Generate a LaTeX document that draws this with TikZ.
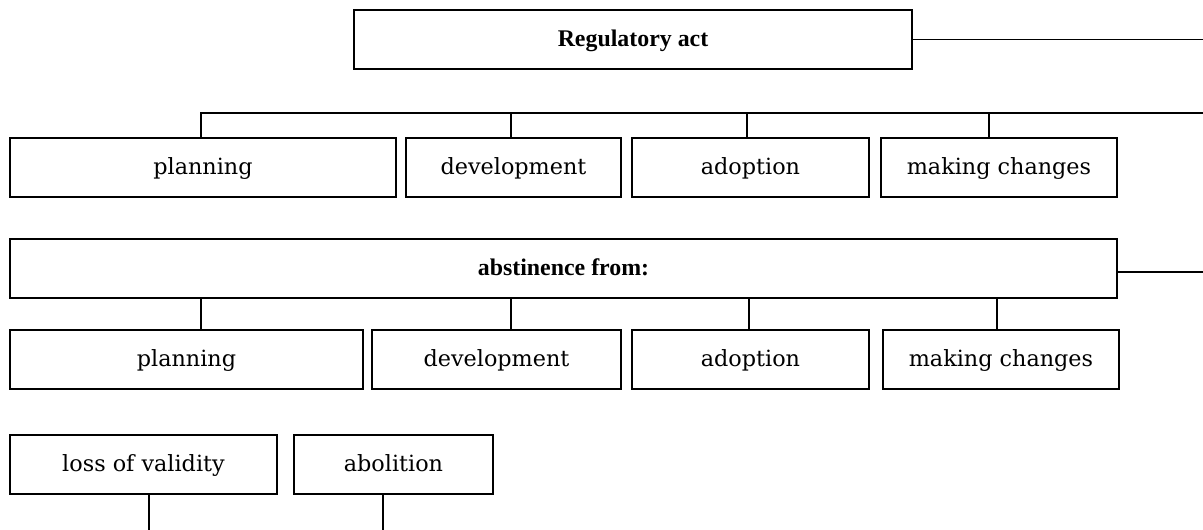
\documentclass[tikz,border=0pt]{standalone}
\usepackage{fontspec}
\setmainfont{DejaVu Serif}[BoldFont={Liberation Serif Bold}, BoldFeatures={Scale=1.07}]
\usepackage{xcolor}

\tikzset{
    box/.style={draw, line width=1.5pt, minimum height=1.18cm, inner sep=0pt,
        text height=0.95em, text depth=0.1em,
        font=\fontsize{12.7}{15}\selectfont},
    link/.style={line width=0.6pt}
}

\begin{document}
\begin{tikzpicture}[x=0.02cm, y=-0.02cm]
    \useasboundingbox (0,0) rectangle (1203,530);

    % top
    \node[box, minimum width=11.16cm] (act) at (633,39.5) {\textbf{Regulatory act}};
    \coordinate (actend) at (1203,39.5);
    \draw[link] (act.east) -- (actend);

    % first row
    \node[box, minimum width=7.72cm] (p1) at (203,167.5) {planning};
    \node[box, minimum width=4.30cm] (d1) at (513.5,167.5) {development};
    \node[box, minimum width=4.74cm] (a1) at (750.5,167.5) {adoption};
    \node[box, minimum width=4.72cm] (m1) at (999,167.5) {making changes};

    \coordinate (bus) at (1203,113);
    \draw[link] (bus) -| ([xshift=-0.04cm]p1.north);
    \foreach \n/\dx in {d1/-0.05, a1/-0.07, m1/-0.2}
        \draw[link] ([xshift=\dx cm]\n.north) -- ([xshift=\dx cm]\n.north |- bus);

    % abstinence
    \node[box, minimum width=22.14cm] (abst) at (563.5,268.5) {\textbf{abstinence from:}};
    \coordinate (abstend) at (1203,272);
    \draw[link] (abstend) -- (abstend -| abst.east);

    % second row
    \node[box, minimum width=7.06cm] (p2) at (186.5,359.5) {planning};
    \node[box, minimum width=4.98cm] (d2) at (496.5,359.5) {development};
    \node[box, minimum width=4.74cm] (a2) at (750.5,359.5) {adoption};
    \node[box, minimum width=4.72cm] (m2) at (1001,359.5) {making changes};

    \foreach \n/\dx in {p2/0.29, d2/0.29, a2/-0.03, m2/-0.08}
        \draw[link] ([xshift=\dx cm]\n.north) -- ([xshift=\dx cm]\n.north |- abst.south);

    % third row
    \node[box, minimum width=5.34cm] (loss) at (143.5,464.5) {loss of validity};
    \node[box, minimum width=3.98cm] (abol) at (393.5,464.5) {abolition};

    \coordinate (bottom) at (0,530);
    \draw[link] ([xshift=0.11cm]loss.south) -- ([xshift=0.11cm]loss.south |- bottom);
    \draw[link] ([xshift=-0.21cm]abol.south) -- ([xshift=-0.21cm]abol.south |- bottom);
\end{tikzpicture}
\end{document}
